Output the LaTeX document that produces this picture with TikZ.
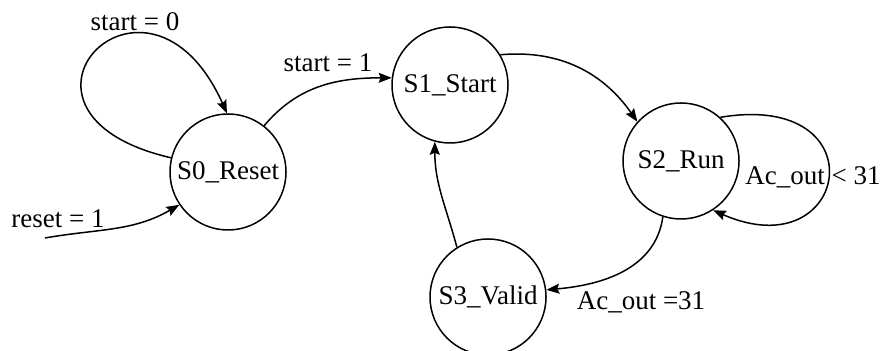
\documentclass[tikz,border=0pt]{standalone}
\usepackage{fontspec}
\setmainfont{Liberation Serif}
\usetikzlibrary{positioning,arrows.meta}
\tikzset{>={Stealth[length=6.5pt,width=5pt,inset=1pt]}}
\tikzset{st/.style={draw,circle,inner sep=0pt,minimum size=58pt},
         lbl/.style={inner sep=0pt}}

\begin{document}
\begin{tikzpicture}[x=.5pt,y=.5pt,line width=.75pt,font=\fontsize{13.5}{16}\selectfont]
\useasboundingbox (0,0) rectangle (881,351);

% states
\node[st] (S0) at (228,179) {S0\_Reset};
\node[st] (S1) at (450,266) {S1\_Start};
\node[st] (S2) at (681,190) {S2\_Run};
\node[st] (S3) at (488,54) {S3\_Valid};

\coordinate (rst) at (45,113);

% transitions
\draw[->] (rst) to[out=10,in=210] (S0.214);
\draw[->] (S0.166) .. controls +(-195,45) and +(-80,178) .. (S0.91);
\draw[->] (S0.52) to[out=50,in=180] (S1.173);
\draw[->] (S1.31) to[out=5,in=125] (S2.138);
\draw[->] (S2.48) .. controls +(160,27) and +(137,-60) .. (S2.303);
\draw[->] (S2.252) to[out=262,in=5] (S3.7);
\draw[->] (S3.122) to[out=105,in=270] (S1.255);

% guards
\node[lbl] (g0) at (135,329) {start = 0};
\node[lbl] (g1) at (328,288) {start = 1};
\node[lbl] (gr) at (58,132) {reset = 1};
\node[lbl] (g2) at (813,174) {Ac\_out < 31};
\node[lbl] (g3) at (641,49) {Ac\_out =31};
\end{tikzpicture}
\end{document}
